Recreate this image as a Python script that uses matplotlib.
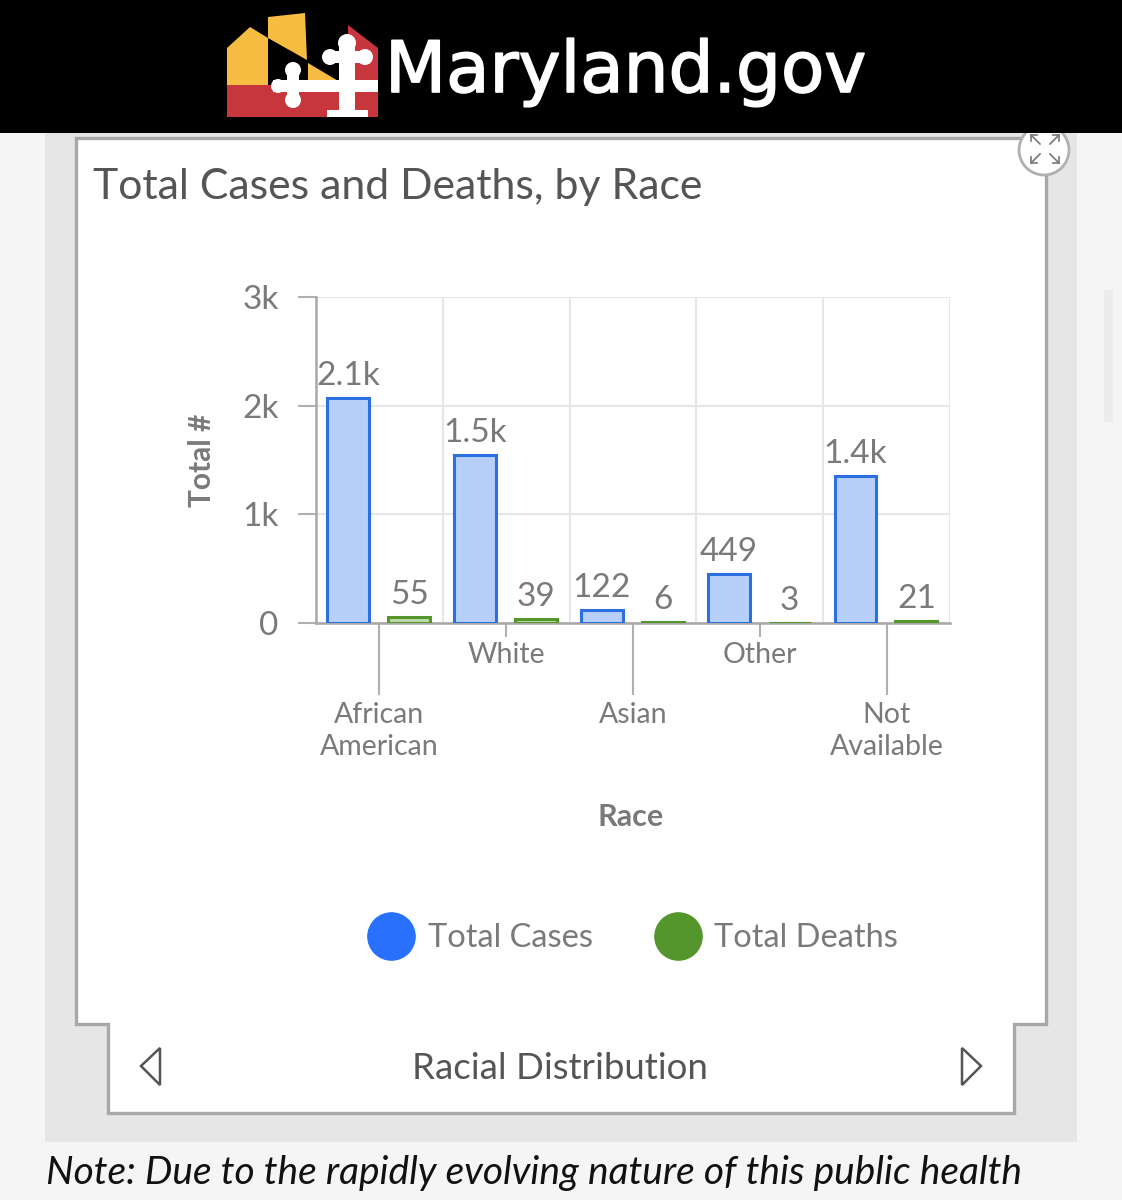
import matplotlib
matplotlib.use("Agg")
import matplotlib.pyplot as plt
import matplotlib.patheffects as pe
from matplotlib.patches import Polygon, Rectangle, Circle
from matplotlib.lines import Line2D
import numpy as np

races = ["African\nAmerican", "White", "Asian", "Other", "Not\nAvailable"]
total_cases = [2070, 1545, 122, 449, 1352]
total_deaths = [55, 39, 6, 3, 21]
case_labels = ["2.1k", "1.5k", "122", "449", "1.4k"]
death_labels = ["55", "39", "6", "3", "21"]
y_ticks = [0, 1000, 2000, 3000]
y_tick_labels = ["0", "1k", "2k", "3k"]

BLUE = "#2b6fe0"
BLUE_FILL = "#b6d0fa"
GREEN = "#54962b"
GREEN_FILL = "#bcd9ab"
TEXT = "#7a7a7a"
YELLOW = "#f6bd42"
RED = "#c8363d"
W, H = 1122, 1200

plt.rcParams["font.family"] = ["Lato", "DejaVu Sans"]

fig = plt.figure(figsize=(W / 100, H / 100), dpi=100, facecolor="#f5f5f5")

# page furniture, in pixel coords
bg = fig.add_axes([0, 0, 1, 1])
bg.set_xlim(0, W)
bg.set_ylim(H, 0)
bg.axis("off")
bg.add_patch(Rectangle((45, 133), 1032, 1009, fc="#e6e6e6", ec="none"))
bg.add_patch(Rectangle((1104, 290), 9, 132, fc="#ececec", ec="none"))
card = [(76, 138), (1046, 138), (1046, 1024), (1014, 1024), (1014, 1113),
        (108, 1113), (108, 1024), (76, 1024)]
bg.add_patch(Polygon(card, closed=True, fc="white", ec="#a8a8a8", lw=2.4))
bg.add_patch(Circle((1044, 150), 25, fc="white", ec="#b0b0b0", lw=2))
for sx, sy in [(-1, -1), (1, -1), (-1, 1), (1, 1)]:
    cx, cy = 1045 + sx * 9, 149 + sy * 9
    bg.plot([cx + sx * 5, cx - sx * 4], [cy + sy * 5, cy - sy * 4], color="#777777", lw=1.2)
    bg.plot([cx + sx * 5, cx + sx * 5, cx - sx * 1], [cy - sy * 1, cy + sy * 5, cy + sy * 5],
            color="#777777", lw=1.2)
bg.add_patch(Polygon([(160, 1048), (141, 1066), (160, 1085)], closed=True, fc="white", ec="#555555", lw=1.8))
bg.add_patch(Polygon([(962, 1048), (981, 1066), (962, 1085)], closed=True, fc="white", ec="#555555", lw=1.8))

# black header with the flag logo
bg.add_patch(Rectangle((0, 0), W, 133, fc="black", ec="none", zorder=5))
logo = [
    Rectangle((227, 85), 151, 32, fc=RED, ec="none"),
    Polygon([(227, 85), (227, 48), (250, 27), (268, 38), (268, 85)], closed=True, fc=YELLOW, ec="none"),
    Polygon([(268, 17), (305, 13), (307, 60), (268, 38)], closed=True, fc=YELLOW, ec="none"),
    Polygon([(308, 63), (345, 85), (308, 85)], closed=True, fc=YELLOW, ec="none"),
    Polygon([(348, 25), (378, 48), (378, 85), (348, 85)], closed=True, fc=RED, ec="none"),
    Rectangle((339, 40), 16, 77, fc="white", ec="none"),
    Rectangle((273, 80), 105, 12, fc="white", ec="none"),
    Rectangle((287, 68), 12, 36, fc="white", ec="none"),
    Rectangle((330, 51), 35, 12, fc="white", ec="none"),
    Rectangle((327, 110), 41, 7, fc="white", ec="none"),
    Circle((347, 43), 9, fc="white", ec="none"),
    Circle((330, 57), 8, fc="white", ec="none"),
    Circle((365, 57), 8, fc="white", ec="none"),
    Circle((293, 70), 8, fc="white", ec="none"),
    Circle((293, 100), 8, fc="white", ec="none"),
    Circle((278, 86), 7, fc="white", ec="none"),
]
for p in logo:
    p.set_zorder(6)
    bg.add_patch(p)
brand = bg.text(385, 92, "Maryland.gov", color="white", fontsize=51, family="DejaVu Sans",
                va="baseline", ha="left", zorder=7)
brand.set_path_effects([pe.withStroke(linewidth=1.2, foreground="white")])

bg.text(93, 199, "Total Cases and Deaths, by Race", color="#555555", fontsize=30.8, va="baseline")
bg.text(560, 1079, "Racial Distribution", color="#555555", fontsize=26.4, ha="center", va="baseline")
bg.text(46, 1184, "Note: Due to the rapidly evolving nature of this public health", color="#111111",
        fontsize=28, style="italic", va="baseline")

# chart
left, right, top, bottom = 316, 950, 297, 623
ax = fig.add_axes([left / W, 1 - bottom / H, (right - left) / W, (bottom - top) / H])
ax.patch.set_alpha(0)
ax.set_xlim(0, 5)
ax.set_ylim(0, 3000)

x = np.arange(len(races)) + 0.5
case_bars = ax.bar(x - 0.245, total_cases, width=0.33, color=BLUE_FILL, edgecolor=BLUE, linewidth=2.2, zorder=3)
death_bars = ax.bar(x + 0.235, total_deaths, width=0.33, color=GREEN_FILL, edgecolor=GREEN, linewidth=2.2, zorder=3)
ax.bar_label(case_bars, labels=case_labels, padding=5, fontsize=24, color=TEXT)
ax.bar_label(death_bars, labels=death_labels, padding=5, fontsize=24, color=TEXT)

for name in ["top", "right"]:
    ax.spines[name].set_visible(False)
for name in ["left", "bottom"]:
    ax.spines[name].set_color("#a8a8a8")
    ax.spines[name].set_linewidth(1.8)

ax.set_yticks(y_ticks, y_tick_labels, fontsize=24, color=TEXT)
ax.tick_params(axis="y", length=13, width=1.5, color="#b0b0b0", pad=14)
ax.set_xticks(np.arange(0, 6), minor=True)
ax.tick_params(axis="x", which="minor", length=0)
ax.grid(True, which="minor", axis="x", color="#e6e6e6", lw=1.5, zorder=0)
ax.grid(True, which="major", axis="y", color="#e6e6e6", lw=1.5, zorder=0)
ax.set_axisbelow(True)

ax.set_xticks(x, races, fontsize=20.5, color=TEXT, linespacing=1.3)
ax.tick_params(axis="x", which="major", length=0, width=1.5, color="#b0b0b0")
for i, tick in enumerate(ax.xaxis.get_major_ticks()):
    long_tick = i % 2 == 0
    # pad resets the marker, so it goes first
    tick.set_pad(57 if long_tick else 14)
    tick.tick1line.set_markersize(52 if long_tick else 10)

ax.set_ylabel("Total #", fontsize=21.5, weight="bold", color=TEXT, family="Lato")
ax.yaxis.set_label_coords((216 - left) / (right - left), 0.50)
ax.set_xlabel("Race", fontsize=22, weight="bold", color=TEXT, family="Lato")
ax.xaxis.set_label_coords(0.497, (623 - 817) / (bottom - top), transform=ax.transAxes)
ax.xaxis.label.set_va("center")

handles = [Line2D([], [], ls="none", marker="o", ms=34, color="#2970ff"),
           Line2D([], [], ls="none", marker="o", ms=34, color=GREEN)]
fig.legend(handles, ["Total Cases", "Total Deaths"], ncol=2, frameon=False, fontsize=23.5,
           labelcolor=TEXT, loc="center", bbox_to_anchor=(628.5 / W, 1 - 938 / H),
           handletextpad=0.12, columnspacing=1.6)

fig.savefig("out.png", dpi=100, facecolor=fig.get_facecolor())
